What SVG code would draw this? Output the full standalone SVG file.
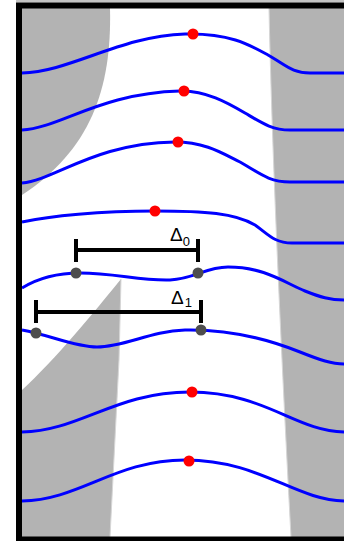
<svg xmlns="http://www.w3.org/2000/svg" width="344" height="541" viewBox="0 0 344 541">
<style>
.shade{fill:#b3b3b3;stroke:none}
.edge{fill:none;stroke:#d6d6d6;stroke-width:1}
.wave{fill:none;stroke:#0000ff;stroke-width:3}
.red{fill:#ff0000}
.pt{fill:#4d4d4d}
.bar{fill:none;stroke:#000;stroke-width:4}
.lbl{font-family:"Liberation Sans",Arial,sans-serif;fill:#000}
</style>
<rect x="0" y="0" width="344" height="541" fill="#fff"/>
<g id="shading">
<path class="shade" d="M22,8 L110,8 C112,90 90,150 22,195 Z"/>
<path class="shade" d="M121,279 C95,311 55,360 22,390 L22,537 L110,537 L119,360 Z"/>
<path class="shade" d="M269,8 Q273,200 291,537 L344,537 L344,8 Z"/>
<path class="edge" d="M269,8 Q273,200 291,537"/>
<path class="edge" d="M121,279 L119,360 L110,537"/>
<rect x="16" y="0" width="328" height="2.6" fill="#c4c4c4"/>
</g>
<g id="waves">
<path class="wave" d="M22,73 C70,72 120,36 185,34 C230,33 250,45 268,55 C286,65 292,73 310,73 H344"/>
<path class="wave" d="M22,130 C60,128 100,93 180,91 C205,90 228,103 245,113 C262,123 272,130 290,130 H344"/>
<path class="wave" d="M22,183 C55,180 95,143 175,142 C205,142 222,153 240,162 C258,172 268,182 290,182 H344"/>
<path class="wave" d="M22,222 C50,216 100,211 155,211 C205,211 235,213 255,225 C268,234 274,243 292,243 H344"/>
<path class="wave" d="M22,288 C35,280 55,273 80,273 C115,273 140,281 170,280 C195,279 205,267 228,267 C265,267 285,283 305,291 C320,297 330,300 344,300"/>
<path class="wave" d="M22,330 C50,335 75,347 97,347 C125,347 150,331 185,330 C230,329 270,340 300,352 C320,360 332,364 344,364"/>
<path class="wave" d="M22,432 C80,431 115,392 190,392 C265,392 295,431 344,432"/>
<path class="wave" d="M22,501 C80,500 115,460 185,460 C260,460 295,500 344,501"/>
</g>
<g id="delta0">
<path class="bar" d="M76,250 H198 M76,239 V262 M198,239 V262"/>
<text class="lbl" x="170" y="241" font-size="19">Δ<tspan font-size="13" dy="5">0</tspan></text>
</g>
<g id="delta1">
<path class="bar" d="M36,312 H201 M36,300 V323 M201,300 V323"/>
<text class="lbl" x="171" y="304" font-size="19">Δ<tspan font-size="13" dx="1" dy="3">1</tspan></text>
</g>
<g id="points">
<circle class="red" cx="193" cy="34" r="5.5"/>
<circle class="red" cx="184" cy="91" r="5.5"/>
<circle class="red" cx="178" cy="142" r="5.5"/>
<circle class="red" cx="155" cy="211" r="5.5"/>
<circle class="red" cx="192" cy="392" r="5.5"/>
<circle class="red" cx="189" cy="461" r="5.5"/>
<circle class="pt" cx="76" cy="273" r="5.5"/>
<circle class="pt" cx="198" cy="273" r="5.5"/>
<circle class="pt" cx="36" cy="333" r="5.5"/>
<circle class="pt" cx="201" cy="330" r="5.5"/>
</g>
<g id="frame">
<path fill="none" stroke="#000" stroke-width="6" d="M350,5.5 H19 V539.5 H350"/>
</g>
</svg>
